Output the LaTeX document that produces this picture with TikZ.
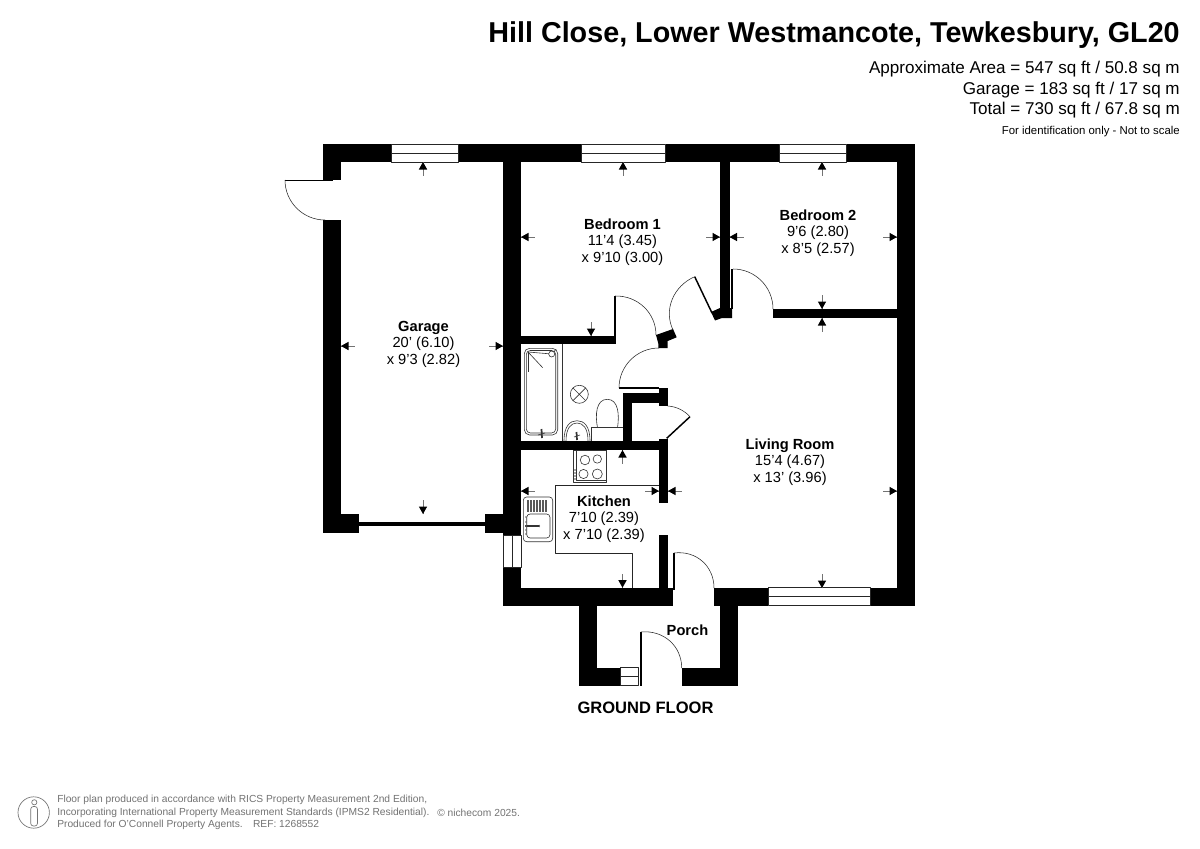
\documentclass[tikz,border=0pt]{standalone}
\usepackage{fontspec}
\setmainfont{Liberation Sans}
\usetikzlibrary{calc}
\definecolor{stem}{gray}{0.45}
\definecolor{foot}{gray}{0.45}
\tikzset{
  wall/.style={fill=black,draw=none},
  fine/.style={draw=black!85,line width=0.4pt,line join=round},
  fixture/.style={draw=black!80,line width=0.45pt,line join=round},
  leaf/.style={draw=black,line width=1.1pt},
  roomlabel/.style={align=center,inner sep=0pt,font=\fontsize{11pt}{12.4pt}\selectfont},
  rightlabel/.style={anchor=east,inner sep=0pt},
  footline/.style={anchor=west,inner sep=0pt,text=foot,font=\fontsize{7.68pt}{9pt}\selectfont},
}
\newcommand{\dimarr}[3]{\begin{scope}[shift={(#1,#2)},rotate=#3]
  \draw[stem,line width=0.55pt] (0,0)--(14,0);
  \fill[black] (0,0)--(7.5,4.2)--(7.5,-4.2)--cycle;
\end{scope}}
\newcommand{\doorarc}[6]{\draw[fine] (#1,#2) .. controls ($(#1,#2)+0.5523*(#3,#4)-0.5523*(#5,#6)$) and ($(#3,#4)+0.5523*(#1,#2)-0.5523*(#5,#6)$) .. (#3,#4);}
\newcommand{\hwin}[4]{\fill[white] (#1,#3) rectangle (#2,#4);
  \draw[fine] (#1,#3) rectangle (#2,#4);
  \draw[fine] (#1,{(#3+#4)/2})--(#2,{(#3+#4)/2});}
\newcommand{\vwin}[4]{\fill[white] (#1,#3) rectangle (#2,#4);
  \draw[fine] (#1,#3) rectangle (#2,#4);
  \draw[fine] ({(#1+#2)/2},#3)--({(#1+#2)/2},#4);}
\begin{document}
\begin{tikzpicture}[x=0.75pt,y=-0.75pt]
\useasboundingbox (0,0) rectangle (1200,849);
\fill[white] (0,0) rectangle (1200,849);

% --- counters and fixtures beneath walls
\draw[fine] (659,485)--(555.7,485)--(555.7,553)--(632.3,553)--(632.3,588);
% hob
\fill[white] (573.3,450) rectangle (606.7,482.7);
\draw[fixture] (573.3,450) rectangle (606.7,482.7);
\draw[fixture] (576,450)--(576,480)--(606,480)--(606,450);
\foreach \cx/\cy/\r in {585/460/4.8,597.3/459/4.2,583.5/474/4.6,597.3/474/5} \draw[fixture] (\cx,\cy) circle[radius=\r];
\foreach \cy in {470,473,476,479} \fill[black!70] (575,\cy) circle[radius=0.8];
% kitchen sink
\draw[fixture,rounded corners=2.5pt] (523.3,497) rectangle (552.7,541.7);
\draw[fixture,rounded corners=2.5pt] (526.7,514) rectangle (550,538);
\foreach \bx in {528,531,534,537,540,543,546} \fill[black!65] (\bx-0.7,499.5) rectangle (\bx+0.7,512);
\draw[fixture,line width=0.8pt] (525,526)--(539,526);
\fill[black!70] (539,524.5)--(540,526)--(539,527.5)--cycle;
\foreach \cy in {517,522,526,530,534} \fill[black!60] (526,\cy) circle[radius=0.9];
% bath
\draw[fixture] (562.3,344)--(562.3,441);
\draw[fixture,rounded corners=4pt] (524.3,348.3) rectangle (557.7,435);
\draw[fixture,rounded corners=3pt] (526.3,350.5) rectangle (555.7,433);
\draw[fixture] (528,352)--(551.7,354);
\draw[fixture] (528,352)--(542.7,367.7);
\draw[fixture] (528,352)--(528,371.7);
\fill[white] (551.7,354) circle[radius=3];
\draw[fixture] (551.7,354) circle[radius=3];
\draw[fixture] (556,349.5)--(553.5,352);
\draw[fixture,line width=1.3pt] (541.5,429)--(542,438);
\draw[fixture] (538,435)--(545,433);
% extractor
\draw[fixture] (579.3,394.3) circle[radius=9];
\draw[fixture] (573,388)--(585.6,400.6) (573,400.6)--(585.6,388);
% basin
\draw[fixture] (564,441) .. controls (564,426) and (570,420.7) .. (577,420.7) .. controls (584,420.7) and (590,426) .. (590,441);
\draw[fixture] (566,441) .. controls (566,428) and (571,423) .. (577,423) .. controls (583,423) and (588,428) .. (588,441);
\draw[fixture,line width=1.3pt] (576.5,432)--(577,440);
\draw[fixture] (574,437)--(580,435);
% WC
\draw[fixture] (591,427.7) rectangle (623.5,441);
\draw[fixture] (597.5,427.7) .. controls (595,415) and (596,399.3) .. (607.3,399.3) .. controls (618.5,399.3) and (619.5,415) .. (617.5,427.7);

% --- walls
\fill[wall] (323,144) rectangle (915,162);            % top
\fill[wall] (323,162) rectangle (341,180);            % garage left upper
\fill[wall] (323,220) rectangle (341,532.5);          % garage left lower
\fill[wall] (341,514) rectangle (359,532.5);          % garage stub
\fill[wall] (503,162) rectangle (521,605.7);          % garage/bed 1 + kitchen
\fill[wall] (485,514) rectangle (503,532.5);          % garage stub right
\fill[wall] (359,522.3) rectangle (485,525.7);        % garage door
\fill[wall] (897,162) rectangle (915,605.7);          % right
\fill[wall] (720,162) rectangle (729.5,318);          % bed1/bed2
\fill[wall] (773,309) rectangle (897,318);            % bed2/living
\fill[wall] (711,312)--(720,308)--(732,308)--(732,318)--(722,318)--(715,320.5)--cycle; % slanted stub
\fill[wall] (521,335.7) rectangle (615.5,344.3);      % bed1/bath
\fill[wall] (656,335)--(673,329)--(676.7,337.3)--(667.7,341)--(667.7,348)--(658.3,348)--(658.3,343.5)--cycle; % hall stub
\fill[wall] (658.7,388) rectangle (667.7,406);        % bath jamb
\fill[wall] (623.3,393.3) rectangle (659,403.3);      % bath/cupboard
\fill[wall] (623.3,393.3) rectangle (632.3,441);      % bath vertical
\fill[wall] (521,440.7) rectangle (668,450);          % bath/kitchen
\fill[wall] (659,438.5) rectangle (668,503);          % kitchen/living upper
\fill[wall] (659,535) rectangle (668,590);            % kitchen/living lower
\fill[wall] (503,587.7) rectangle (673.3,605.7);      % bottom left
\fill[wall] (714,587.7) rectangle (915,605.7);        % bottom right
\fill[wall] (579.3,605.7) rectangle (597.3,685.7);    % porch left
\fill[wall] (720,605.7) rectangle (738.3,685.7);      % porch right
\fill[wall] (579.3,667.7) rectangle (620.7,685.7);    % porch bottom left
\fill[wall] (681.7,667.7) rectangle (738.3,685.7);    % porch bottom right

% --- windows
\hwin{391.7}{458}{144}{162}
\hwin{581}{665.5}{144}{162}
\hwin{779}{846.7}{144}{162}
\hwin{768}{870}{587.7}{605.7}
\hwin{620.7}{638.3}{667.7}{685.7}
\vwin{503}{521}{535}{567}

% --- doors
\draw[leaf] (285,180.3)--(333,180.3);
\doorarc{285}{180}{325}{220}{325}{180}
\draw[leaf] (615,296)--(615,337);
\doorarc{615}{296}{656}{335}{615}{336}
\draw[leaf] (694.7,276.7)--(712,313);
\doorarc{694.7}{276.7}{673}{330}{712}{313}
\draw[leaf] (619,388)--(659,388);
\doorarc{659}{348}{619}{388}{659}{388}
\draw[leaf] (690,416.7)--(666.7,438.3);
\draw[fine] (667.7,406) .. controls (676,406.5) and (684,410.2) .. (690,416.7);
\draw[leaf,line width=0.9pt] (674,553)--(674,590);
\doorarc{674}{553}{714}{588}{674}{593}
\draw[leaf] (641.2,632.3)--(641.2,685.7);
\doorarc{641}{632}{681.7}{668}{641}{672}
\draw[leaf,line width=0.9pt] (732,269)--(732,309);
\doorarc{733}{269}{773}{309}{733}{309}

% --- dimension arrows
\dimarr{423}{162}{-90}\dimarr{341}{346}{0}\dimarr{503}{346}{180}\dimarr{423}{514}{90}
\dimarr{623}{162}{-90}\dimarr{521}{237}{0}\dimarr{720}{237}{180}\dimarr{591}{336}{90}
\dimarr{822}{162}{-90}\dimarr{729.5}{237}{0}\dimarr{897}{237}{180}\dimarr{822}{309}{90}
\dimarr{822}{318}{-90}\dimarr{668}{491}{0}\dimarr{897}{491}{180}\dimarr{822}{588}{90}
\dimarr{622.5}{450}{-90}\dimarr{521}{491}{0}\dimarr{659}{491}{180}\dimarr{622.5}{587.7}{90}

% --- labels
\node[roomlabel] (garage) at (423.5,344) {\textbf{Garage}\\20' (6.10)\\x 9'3 (2.82)};
\node[roomlabel] (bed1) at (622.5,242) {\textbf{Bedroom 1}\\11'4 (3.45)\\x 9'10 (3.00)};
\node[roomlabel] (bed2) at (818,233) {\textbf{Bedroom 2}\\9'6 (2.80)\\x 8'5 (2.57)};
\node[roomlabel] (living) at (790,462) {\textbf{Living Room}\\15'4 (4.67)\\x 13' (3.96)};
\node[roomlabel] (kitchen) at (604,519) {\textbf{Kitchen}\\7'10 (2.39)\\x 7'10 (2.39)};
\node[roomlabel] (porch) at (687.5,630.5) {\textbf{Porch}};
\node[inner sep=0pt,font=\fontsize{12.4pt}{14pt}\selectfont\bfseries] (floor) at (645.5,708) {GROUND FLOOR};

\node[rightlabel,font=\fontsize{21.55pt}{24pt}\selectfont\bfseries] (title) at (1180,35.5) {Hill Close, Lower Westmancote, Tewkesbury, GL20};
\node[rightlabel,font=\fontsize{12.8pt}{15pt}\selectfont] (area) at (1180,69) {Approximate Area = 547 sq ft / 50.8 sq m};
\node[rightlabel,font=\fontsize{12.8pt}{15pt}\selectfont] (garagearea) at (1180,90) {Garage = 183 sq ft / 17 sq m};
\node[rightlabel,font=\fontsize{12.8pt}{15pt}\selectfont] (total) at (1180,110) {Total = 730 sq ft / 67.8 sq m};
\node[rightlabel,font=\fontsize{8.54pt}{10pt}\selectfont] (scale) at (1180,131.5) {For identification only - Not to scale};

% --- footer
\draw[foot,line width=0.5pt] (33.7,812.5) circle[radius=15.7];
\draw[foot,line width=0.5pt] (34.3,802.3) circle[radius=2.6];
\draw[foot,line width=0.5pt,rounded corners=2pt] (30.7,806.5) rectangle (37.5,826);
\node[footline] (foot1) at (57,799.5) {Floor plan produced in accordance with RICS Property Measurement 2nd Edition,};
\node[footline] (foot2) at (57,812.5) {Incorporating International Property Measurement Standards (IPMS2 Residential).};
\node[footline] (foot3) at (57,825) {Produced for O'Connell Property Agents.\quad REF: 1268552};
\node[footline] (foot4) at (437,812.5) {© nichecom 2025.};
\end{tikzpicture}
\end{document}
